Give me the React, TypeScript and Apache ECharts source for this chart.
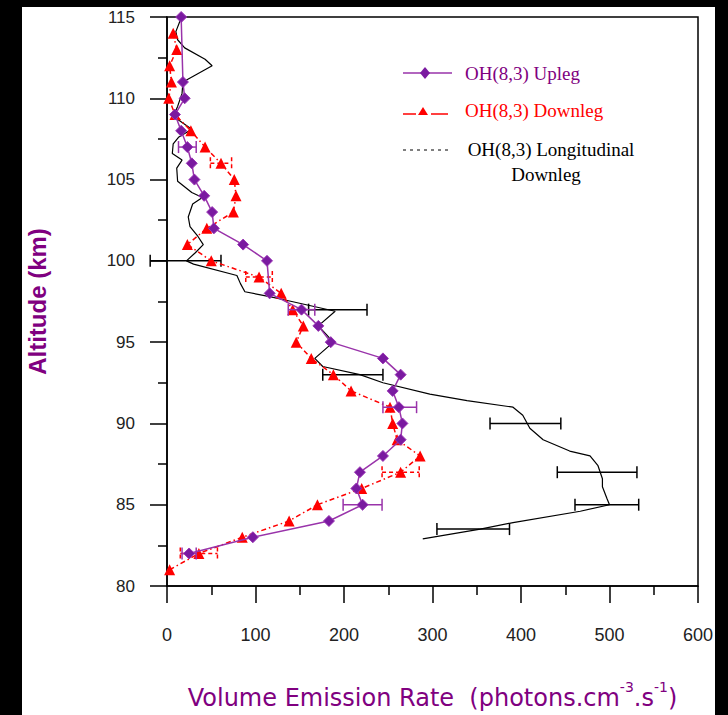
import React, { useEffect, useRef } from "react";
import * as echarts from "echarts";

// Upleg (purple diamonds)
const uplegAlt = [115, 111, 110, 109, 108, 107, 106, 105, 104, 103, 102, 101, 100, 98, 97, 96, 95, 94, 93, 92, 91, 90, 89, 88, 87, 86, 85, 84, 83, 82];
const uplegVER = [16, 18, 20, 9, 16, 23, 28, 31, 42, 51, 53, 86, 113, 116, 152, 171, 185, 244, 264, 255, 262, 266, 264, 244, 218, 214, 221, 183, 97, 25];

// Downleg (red triangles)
const downAlt = [114, 113, 112, 111, 110, 109, 108, 107, 106, 105, 104, 103, 102, 101, 100, 99, 98, 97, 96, 95, 94, 93, 92, 91, 90, 89, 88, 87, 86, 85, 84, 83, 82, 81];
const downVER = [7, 11, 3, 5, 2, 9, 27, 43, 61, 76, 78, 75, 45, 23, 50, 104, 129, 142, 154, 146, 163, 188, 208, 252, 255, 260, 286, 264, 220, 170, 138, 85, 36, 3];

// Longitudinal downleg (black line)
const longAlt = [114.8, 114.1, 113.6, 113.1, 112.4, 112.0, 111.0, 110.3, 109.5, 108.9, 108.1, 107.6, 107.2, 106.6, 106.2, 105.7, 104.9, 104.2, 103.9, 103.5, 102.7, 102.1, 101.5, 101.0, 100.5, 100.0, 99.8, 99.1, 98.6, 98.1, 97.8, 97.5, 96.9, 96.0, 95.0, 94.0, 93.5, 93.0, 92.5, 91.8, 91.4, 91.0, 90.5, 89.7, 89.0, 88.3, 88.0, 87.4, 86.6, 86.1, 85.4, 85.0, 84.6, 83.9, 83.5, 82.9];
const longVER = [15, 10, 12, 20, 43, 51, 18, 17, 12, 7, 28, 13, 7, 6, 17, 11, 12, 28, 40, 29, 24, 26, 35, 41, 32, 22, 30, 79, 83, 88, 116, 141, 190, 171, 188, 167, 176, 218, 244, 297, 339, 391, 402, 410, 425, 455, 478, 487, 492, 492, 497, 500, 467, 391, 354, 289];

// Error bars: altitude, centre, half-width
const upErrAlt = [107, 97, 91, 85, 82];
const upErrCenter = [23, 152, 263, 221, 25];
const upErrHalf = [10, 15, 19, 22, 8];

const downErrAlt = [106, 99, 87, 82];
const downErrCenter = [61, 104, 264, 36];
const downErrHalf = [12, 15, 21, 21];

const longErrAlt = [100, 97, 93, 90, 87, 85, 83.5];
const longErrCenter = [21, 193, 210, 405, 486, 497, 346];
const longErrHalf = [40, 33, 34, 40, 45, 36, 41];

const xTicks = [0, 600, 100];
const yTicks = [80, 115, 5];

const PURPLE = "#800080";
const RED = "#ff0000";

function errSeries(alt: number[], c: number[], h: number[], color: string, dashed: boolean, z: number) {
  return {
    type: "custom",
    clip: false,
    z,
    data: alt.map((a, i) => [c[i], h[i], a]),
    encode: { x: 0, y: 2 },
    renderItem: (params: any, api: any) => {
      const cx = api.value(0);
      const hw = api.value(1);
      const y = api.value(2);
      const p1 = api.coord([cx - hw, y]);
      const p2 = api.coord([cx + hw, y]);
      const style = { stroke: color, lineWidth: 1.5, lineDash: dashed ? [4, 3] : null };
      const cap = 6;
      return {
        type: "group",
        children: [
          { type: "line", shape: { x1: p1[0], y1: p1[1], x2: p2[0], y2: p2[1] }, style },
          { type: "line", shape: { x1: p1[0], y1: p1[1] - cap, x2: p1[0], y2: p1[1] + cap }, style },
          { type: "line", shape: { x1: p2[0], y1: p2[1] - cap, x2: p2[0], y2: p2[1] + cap }, style },
        ],
      };
    },
  };
}

export default function App() {
  const ref = useRef<HTMLDivElement>(null);
  useEffect(() => {
    const chart = echarts.init(ref.current!, null, { renderer: "svg" });
    const tickLabelFont = "Liberation Sans";
    const option: any = {
      animation: false,
      backgroundColor: "#ffffff",
      grid: { left: 167, right: 30, top: 17, bottom: 127, show: true, borderColor: "#000", borderWidth: 1.5, backgroundColor: "transparent" },
      xAxis: {
        type: "value",
        min: xTicks[0],
        max: xTicks[1],
        interval: xTicks[2],
        axisLine: { show: true, onZero: false, lineStyle: { color: "#000", width: 1.5 } },
        axisTick: { show: true, length: 17, lineStyle: { color: "#000", width: 1.5 } },
        minorTick: { show: true, splitNumber: 2, length: 9, lineStyle: { color: "#000", width: 1.5 } },
        splitLine: { show: false },
        axisLabel: { margin: 40, color: "#222", fontSize: 18, fontFamily: tickLabelFont },
        name: "{a|Volume Emission Rate  (photons.cm}{s|-3}{a|.s}{s|-1}{a|)}",
        nameLocation: "middle",
        nameGap: 94,
        nameTextStyle: {
          rich: {
            a: { color: PURPLE, fontSize: 24, fontFamily: "DejaVu Sans", lineHeight: 30, verticalAlign: "bottom" },
            s: { color: PURPLE, fontSize: 14, fontFamily: "DejaVu Sans", lineHeight: 30, verticalAlign: "top" },
          },
        },
      },
      yAxis: {
        type: "value",
        min: yTicks[0],
        max: yTicks[1],
        interval: yTicks[2],
        axisLine: { show: true, onZero: false, lineStyle: { color: "#000", width: 1.5 } },
        axisTick: { show: true, length: 17, lineStyle: { color: "#000", width: 1.5 } },
        minorTick: { show: true, splitNumber: 2, length: 9, lineStyle: { color: "#000", width: 1.5 } },
        splitLine: { show: false },
        axisLabel: { margin: 32, color: "#222", fontSize: 17, fontFamily: tickLabelFont },
        name: "Altitude (km)",
        nameLocation: "middle",
        nameGap: 118,
        nameTextStyle: { color: PURPLE, fontSize: 24, fontWeight: "bold", fontFamily: "Liberation Sans" },
      },
      series: [
        {
          name: "OH(8,3) Longitudinal Downleg",
          type: "line",
          data: longAlt.map((a, i) => [longVER[i], a]),
          showSymbol: false,
          symbol: "none",
          lineStyle: { color: "#000", width: 1.2 },
          z: 2,
        },
        errSeries(longErrAlt, longErrCenter, longErrHalf, "#000", false, 2),
        {
          name: "OH(8,3) Downleg",
          type: "line",
          data: downAlt.map((a, i) => [downVER[i], a]),
          symbol: "triangle",
          symbolSize: 11,
          itemStyle: { color: RED },
          lineStyle: { color: RED, width: 1.5, type: [5, 3, 1.5, 3] },
          z: 3,
        },
        errSeries(downErrAlt, downErrCenter, downErrHalf, RED, true, 3),
        {
          name: "OH(8,3) Upleg",
          type: "line",
          data: uplegAlt.map((a, i) => [uplegVER[i], a]),
          symbol: "diamond",
          symbolSize: 11,
          itemStyle: { color: "#7a1aa0", borderColor: "#9a35b5", borderWidth: 1 },
          lineStyle: { color: "#9933aa", width: 1.5 },
          z: 4,
        },
        errSeries(upErrAlt, upErrCenter, upErrHalf, "#9933aa", false, 4),
      ],
      graphic: [
        // legend
        { type: "line", shape: { x1: 403, y1: 73, x2: 452, y2: 73 }, style: { stroke: "#9933aa", lineWidth: 1.5 }, z: 10 },
        { type: "polygon", shape: { points: [[425, 67], [430, 73], [425, 79], [420, 73]] }, style: { fill: "#7a1aa0" }, z: 10 },
        { type: "text", x: 465, y: 73, style: { text: "OH(8,3) Upleg", fill: PURPLE, font: "19px 'Liberation Serif'", verticalAlign: "middle" }, z: 10 },
        { type: "line", shape: { x1: 403, y1: 114, x2: 416, y2: 114 }, style: { stroke: RED, lineWidth: 1.5 }, z: 10 },
        { type: "line", shape: { x1: 431, y1: 114, x2: 448, y2: 114 }, style: { stroke: RED, lineWidth: 1.5 }, z: 10 },
        { type: "polygon", shape: { points: [[423, 107], [428, 115], [418, 115]] }, style: { fill: RED }, z: 10 },
        { type: "text", x: 465, y: 110, style: { text: "OH(8,3) Downleg", fill: RED, font: "19px 'Liberation Serif'", verticalAlign: "middle" }, z: 10 },
        { type: "line", shape: { x1: 403, y1: 150, x2: 450, y2: 150 }, style: { stroke: "#000", lineWidth: 1, lineDash: [3, 4] }, z: 10 },
        { type: "text", x: 551, y: 149, style: { text: "OH(8,3) Longitudinal", fill: "#000", font: "19px 'Liberation Serif'", align: "center", verticalAlign: "middle" }, z: 10 },
        { type: "text", x: 546, y: 174, style: { text: "Downleg", fill: "#000", font: "19px 'Liberation Serif'", align: "center", verticalAlign: "middle" }, z: 10 },
        // black frame around the picture
        { type: "rect", shape: { x: 0, y: 0, width: 22, height: 715 }, style: { fill: "#000" }, z: 100 },
        { type: "rect", shape: { x: 0, y: 0, width: 728, height: 7 }, style: { fill: "#000" }, z: 100 },
        { type: "rect", shape: { x: 715, y: 0, width: 13, height: 715 }, style: { fill: "#000" }, z: 100 },
      ],
    };
    chart.setOption(option);
    return () => chart.dispose();
  }, []);
  return (
    <div style={{ position: "fixed", left: 0, top: 0, width: 728, height: 715, background: "#000" }}>
      <div ref={ref} style={{ width: 728, height: 715 }} />
    </div>
  );
}
